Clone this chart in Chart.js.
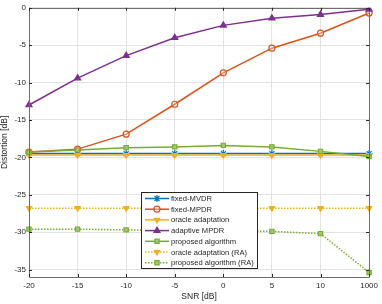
<!DOCTYPE html>
<html>
<head>
<meta charset="utf-8">
<script src="https://cdn.jsdelivr.net/npm/chart.js@4/dist/chart.umd.min.js"></script>
<style>
html,body{margin:0;padding:0;background:#fff;}
#wrap{width:382px;height:304px;position:relative;}
</style>
</head>
<body>
<div id="wrap"><canvas id="c" width="382" height="304"></canvas></div>
<script>
const snrLabels = ['-20','-15','-10','-5','0','5','10','1000'];
const yTicks = [0,-5,-10,-15,-20,-25,-30,-35];

const fixedMVDR      = [-19.5,-19.5,-19.5,-19.5,-19.5,-19.5,-19.5,-19.5];
const fixedMPDR      = [-19.3,-18.9,-16.9,-12.9,-8.7,-5.4,-3.4,-0.7];
const oracleAdapt    = [-19.7,-19.7,-19.7,-19.7,-19.7,-19.7,-19.7,-19.7];
const adaptiveMPDR   = [-13.0,-9.4,-6.4,-4.0,-2.35,-1.4,-0.9,-0.2];
const proposedAlg    = [-19.3,-19.0,-18.7,-18.6,-18.4,-18.6,-19.2,-19.9];
const oracleAdaptRA  = [-26.8,-26.8,-26.8,-26.8,-26.8,-26.8,-26.8,-26.8];
const proposedAlgRA  = [-29.6,-29.6,-29.7,-29.8,-29.8,-29.9,-30.2,-35.4];

const seriesNames = ['fixed-MVDR','fixed-MPDR','oracle adaptation','adaptive MPDR','proposed algorithm','oracle adaptation (RA)','proposed algorithm (RA)'];

const BLUE='#0072BD', ORANGE='#D95319', YELLOW='#EDB120', PURPLE='#7E2F8E', GREEN='#77AC30';
const FONT = '"Liberation Sans", Arial, Helvetica, sans-serif';

function ds(label, data, color, style, opts) {
  return Object.assign({
    label, data,
    borderColor: color,
    backgroundColor: color,
    pointBorderColor: color,
    pointBackgroundColor: color,
    borderWidth: 1.5,
    pointStyle: style,
    pointRadius: 3,
    pointBorderWidth: 1.2,
    pointHoverRadius: 3,
    tension: 0,
    fill: false
  }, opts || {});
}

const datasets = [
  ds(seriesNames[0], fixedMVDR, BLUE, 'star', {order: 7, pointRadius: 3.5}),
  ds(seriesNames[1], fixedMPDR, ORANGE, 'circle', {order: 6, pointBackgroundColor: 'rgba(255,255,255,0.3)'}),
  ds(seriesNames[2], oracleAdapt, YELLOW, 'triangle', {order: 5, pointRotation: 180}),
  ds(seriesNames[3], adaptiveMPDR, PURPLE, 'triangle', {order: 4, pointRadius: 3.5}),
  ds(seriesNames[4], proposedAlg, GREEN, 'rect', {order: 3, pointBackgroundColor: 'rgba(160,200,110,1)'}),
  ds(seriesNames[5], oracleAdaptRA, YELLOW, 'triangle', {order: 2, pointRotation: 180, borderDash: [1.5,1.5]}),
  ds(seriesNames[6], proposedAlgRA, GREEN, 'rect', {order: 1, borderDash: [1.5,1.5], pointBackgroundColor: 'rgba(160,200,110,1)'})
];

const boxPlugin = {
  id: 'boxPlugin',
  afterDraw(chart) {
    const ctx = chart.ctx;
    const a = chart.chartArea;
    const xs = chart.scales.x, ys = chart.scales.y;
    ctx.save();
    ctx.strokeStyle = '#6e6e6e';
    ctx.lineWidth = 1;
    ctx.beginPath();
    ctx.rect(Math.round(a.left)+0.5, Math.round(a.top)+0.5, Math.round(a.right-a.left), Math.round(a.bottom-a.top));
    ctx.stroke();
    // inward ticks
    ctx.strokeStyle = '#262626';
    ctx.beginPath();
    for (let i = 0; i < snrLabels.length; i++) {
      const x = Math.round(xs.getPixelForValue(i)) + 0.5;
      ctx.moveTo(x, a.bottom); ctx.lineTo(x, a.bottom - 3);
      ctx.moveTo(x, a.top); ctx.lineTo(x, a.top + 3);
    }
    yTicks.forEach(v => {
      const y = Math.round(ys.getPixelForValue(v)) + 0.5;
      ctx.moveTo(a.left, y); ctx.lineTo(a.left + 3, y);
      ctx.moveTo(a.right, y); ctx.lineTo(a.right - 3, y);
    });
    ctx.stroke();

    // legend
    const lx = 141.5, ly = 192.5, lw = 116, lh = 76;
    ctx.fillStyle = '#ffffff';
    ctx.fillRect(lx, ly, lw, lh);
    ctx.strokeStyle = '#262626';
    ctx.lineWidth = 1;
    ctx.strokeRect(lx, ly, lw, lh);
    ctx.font = '7.6px ' + FONT;
    ctx.textBaseline = 'middle';
    chart.data.datasets.forEach((d, i) => {
      const y = 198.5 + i * 10.7;
      ctx.save();
      ctx.strokeStyle = d.borderColor;
      ctx.lineWidth = d.borderWidth;
      ctx.setLineDash(d.borderDash || []);
      ctx.beginPath();
      ctx.moveTo(145, y); ctx.lineTo(169, y);
      ctx.stroke();
      ctx.setLineDash([]);
      ctx.fillStyle = d.pointBackgroundColor;
      ctx.strokeStyle = d.pointBorderColor;
      ctx.lineWidth = d.pointBorderWidth;
      Chart.helpers.drawPoint(ctx, {pointStyle: d.pointStyle, radius: d.pointRadius, rotation: d.pointRotation || 0, borderWidth: d.pointBorderWidth}, 157, y);
      ctx.restore();
      ctx.fillStyle = '#262626';
      ctx.fillText(d.label, 171, y + 0.5);
    });
    ctx.restore();
  }
};

new Chart(document.getElementById('c'), {
  type: 'line',
  data: { labels: snrLabels, datasets },
  options: {
    responsive: false,
    animation: false,
    devicePixelRatio: 1,
    layout: { padding: { top: 5, right: 10, left: 0, bottom: 0 } },
    plugins: { legend: { display: false }, tooltip: { enabled: false } },
    scales: {
      x: {
        type: 'category',
        offset: false,
        grid: { color: '#e3e3e3', drawTicks: false, lineWidth: 1 },
        border: { display: false },
        ticks: { color: '#262626', font: { family: FONT, size: 8 }, padding: 4, maxRotation: 0, autoSkip: false },
        title: { display: true, text: 'SNR [dB]', color: '#262626', font: { family: FONT, size: 8.5 }, padding: { top: 1, bottom: 2 } },
        afterFit(s) { s.height = 27; }
      },
      y: {
        min: -36, max: 0,
        afterBuildTicks(s) { s.ticks = yTicks.map(v => ({ value: v })); },
        grid: { color: '#e3e3e3', drawTicks: false, lineWidth: 1 },
        border: { display: false },
        ticks: { color: '#262626', font: { family: FONT, size: 8 }, padding: 3 },
        title: { display: true, text: 'Distortion [dB]', color: '#262626', font: { family: FONT, size: 8.5 }, padding: { top: 0, bottom: 1 } },
        afterFit(s) { s.width = 29; }
      }
    }
  },
  plugins: [boxPlugin]
});
</script>
</body>
</html>
